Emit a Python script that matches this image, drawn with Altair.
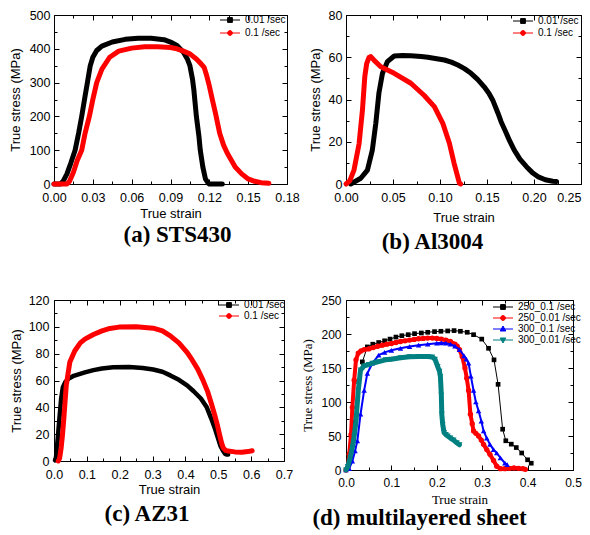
import altair as alt
import pandas as pd

# ---------------- data ----------------
# (a) STS430
a_names = ["0.01 /sec", "0.1 /sec"]
a_black_x = [0.0, 0.005, 0.007, 0.01, 0.013, 0.0163, 0.019, 0.0214, 0.024, 0.0258, 0.028, 0.030, 0.033, 0.037,
             0.045, 0.055, 0.065, 0.075, 0.085, 0.09, 0.095, 0.1, 0.103, 0.105, 0.107, 0.108, 0.109, 0.11,
             0.112, 0.113, 0.115, 0.117, 0.119, 0.12, 0.13]
a_black_y = [0, 0, 8, 30, 62, 100, 150, 200, 260, 300, 350, 375, 395, 408, 420, 428, 431, 431, 427, 420, 410,
             390, 370, 350, 310, 280, 240, 200, 140, 100, 50, 15, 3, 0, 0]
a_red_x = [0.0, 0.01, 0.012, 0.015, 0.018, 0.0214, 0.024, 0.0273, 0.030, 0.033, 0.037, 0.043, 0.05, 0.06, 0.07,
           0.08, 0.09, 0.095, 0.1, 0.105, 0.11, 0.113, 0.116, 0.118, 0.12, 0.122, 0.125, 0.128, 0.131, 0.134,
           0.137, 0.14, 0.145, 0.15, 0.155, 0.16, 0.166]
a_red_y = [0, 0, 8, 35, 70, 100, 150, 200, 250, 300, 340, 375, 393, 402, 406, 406, 404, 400, 393, 385, 370, 358,
           345, 320, 290, 255, 205, 150, 115, 90, 70, 50, 30, 15, 8, 4, 2]

# (b) Al3004
b_names = ["0.01 /sec", "0.1 /sec"]
b_black_x = [0.005, 0.0157, 0.0228, 0.028, 0.0317, 0.035, 0.0388, 0.044, 0.0513, 0.06, 0.069, 0.08, 0.087, 0.095,
             0.1047, 0.112, 0.119, 0.126, 0.133, 0.14, 0.147, 0.152, 0.156, 0.1617, 0.165, 0.169, 0.174, 0.179,
             0.185, 0.192, 0.198, 0.204, 0.212, 0.22, 0.224]
b_black_y = [0, 2.7, 6.6, 16, 28.7, 43, 52.4, 57.9, 60.6, 60.8, 60.7, 60.3, 60, 59.4, 58.7, 57.7, 56.3, 54.6,
             52.4, 49.5, 46, 43, 39.8, 33.5, 29.5, 25.6, 20.5, 16, 11.8, 8.2, 5.5, 3.5, 2, 1.3, 1.2]
b_red_x = [0.0, 0.004, 0.0085, 0.0139, 0.0175, 0.02, 0.022, 0.0246, 0.0264, 0.03, 0.037, 0.0513, 0.069, 0.083,
           0.094, 0.103, 0.11, 0.115, 0.1207, 0.122]
b_red_y = [0, 1.5, 6.6, 19, 35, 50.8, 57, 60, 60.3, 58.5, 55.5, 52.4, 47.7, 42, 36.6, 28.7, 19.3, 9.8, 0.3, 0]

# (c) AZ31
c_names = ["0.01 /sec", "0.1 /sec"]
c_black_x = [0.003, 0.006, 0.0114, 0.0166, 0.0218, 0.027, 0.035, 0.0425, 0.06, 0.094, 0.12, 0.146, 0.18, 0.229,
             0.27, 0.302, 0.33, 0.354, 0.38, 0.405, 0.425, 0.447, 0.465, 0.478, 0.49, 0.499, 0.507, 0.515, 0.52,
             0.525, 0.53]
c_black_y = [0.5, 2.5, 17, 32, 46.6, 55, 59, 61, 63.5, 66, 67.7, 69, 69.8, 70, 69.3, 68.2, 66.5, 63.8, 60.5,
             56.4, 52, 46.6, 40, 32, 24, 17, 11, 7.4, 5.5, 4.9, 4.8]
c_red_x = [0.013, 0.017, 0.0218, 0.026, 0.03, 0.0373, 0.048, 0.063, 0.08, 0.094, 0.12, 0.146, 0.17, 0.198, 0.25,
           0.302, 0.33, 0.354, 0.38, 0.405, 0.42, 0.437, 0.453, 0.468, 0.48, 0.489, 0.497, 0.504, 0.51, 0.515,
           0.522, 0.53, 0.55, 0.572, 0.59, 0.603]
c_red_y = [0, 2, 9.8, 20, 32, 56.4, 73.6, 82, 88, 90.8, 94.3, 97, 98.8, 99.8, 100, 99, 97, 93.3, 88, 81, 75.5,
           68.7, 60.5, 51.5, 42, 34.4, 27, 19.6, 13.5, 9.8, 8, 7.4, 6.8, 6.6, 7, 7.6]

# (d) multilayered sheet
d_names = ["250_0.1 /sec", "250_0.01 /sec", "300_0.1 /sec", "300_0.01 /sec"]
d_k_x = [0.004, 0.01, 0.02, 0.028, 0.036, 0.047, 0.059, 0.072, 0.085, 0.097, 0.11, 0.123, 0.137, 0.151, 0.166,
         0.18, 0.195, 0.209, 0.224, 0.238, 0.252, 0.267, 0.281, 0.299, 0.314, 0.326, 0.335, 0.345, 0.352, 0.364,
         0.375, 0.387, 0.4, 0.408]
d_k_y = [3, 20, 70, 130, 159, 181, 185, 187.5, 190, 192.5, 195.5, 197.5, 199, 200.5, 201.5, 202.5, 203.5, 204,
         204.5, 205, 204, 202.5, 199, 192.5, 179, 162, 126, 60, 43, 38, 33, 25, 15, 10]
d_r_x = [0.0, 0.004, 0.007, 0.011, 0.014, 0.018, 0.022, 0.027, 0.033, 0.04, 0.05, 0.06, 0.07, 0.08, 0.09, 0.1,
         0.11, 0.12, 0.13, 0.14, 0.15, 0.16, 0.17, 0.18, 0.19, 0.2, 0.21, 0.22, 0.23, 0.24, 0.245, 0.25, 0.256,
         0.262, 0.266, 0.27, 0.274, 0.278, 0.281, 0.286, 0.292, 0.298, 0.303, 0.31, 0.317, 0.325, 0.332, 0.34,
         0.35, 0.36, 0.37, 0.38, 0.39, 0.395]
d_r_y = [0, 3, 23, 52, 92, 132, 162, 172, 175, 177, 178, 180, 182, 183.5, 185, 186, 187.5, 189, 190, 191, 192,
         193, 193.5, 194, 194, 193.5, 192.5, 191, 189, 185, 182, 177, 167, 150, 135, 117, 82, 68, 57.5, 54, 50,
         44, 37.7, 30, 23, 14, 5.5, 2, 2, 2.5, 3, 2.5, 2, 1]
d_b_x = [0.0, 0.007, 0.014, 0.02, 0.025, 0.032, 0.04, 0.047, 0.058, 0.072, 0.085, 0.1, 0.12, 0.14, 0.16, 0.18,
         0.2, 0.21, 0.22, 0.23, 0.24, 0.25, 0.26, 0.265, 0.27, 0.275, 0.281, 0.286, 0.292, 0.298, 0.303, 0.31,
         0.317, 0.325, 0.332, 0.34, 0.35, 0.355]
d_b_y = [0, 2, 13, 28, 43, 82, 117, 142, 157, 169, 173, 176, 179, 181.5, 183.5, 185, 186.5, 187, 186.5, 185, 182,
         177, 168, 163, 157, 138, 117, 100, 87, 72, 57.5, 47, 37.7, 30, 25, 18, 10, 8]
d_t_x = [0.0, 0.004, 0.009, 0.014, 0.018, 0.022, 0.027, 0.032, 0.04, 0.05, 0.058, 0.07, 0.087, 0.1, 0.12, 0.14,
         0.16, 0.18, 0.19, 0.196, 0.202, 0.206, 0.208, 0.21, 0.211, 0.213, 0.216, 0.22, 0.224, 0.23, 0.237, 0.244,
         0.25]
d_t_y = [0, 5, 18, 33, 50, 72, 117, 147, 153, 155, 157, 159, 162, 163, 165, 166.5, 167, 167, 166, 163, 152, 145,
         137, 110, 82, 67, 55, 52, 50, 47, 44, 40, 37]

# ---------------- styling helpers ----------------
SANS = "Liberation Sans"
SERIF = "Liberation Serif"

# legend glyphs: short line with a marker in the middle
SQ = "M-1,0H4M0.9,-0.6H2.1V0.6H0.9Z"
CI = "M-1,0H4M2.1,0A0.6,0.6,0,1,1,0.9,0A0.6,0.6,0,1,1,2.1,0Z"
TU = "M-1,0H4M1.5,-0.75L2.2,0.5H0.8Z"
TD = "M-1,0H4M1.5,0.75L2.2,-0.5H0.8Z"
LEG_SIZE = 64


def make_axis(title, majors, minors, step, fmt, span, lab_size, lab_pad, title_font, title_pad,
              last_right=False):
    test = f"abs(datum.value / {step} - round(datum.value / {step})) < 0.000001"
    ax = dict(
        title=title, values=sorted(majors + minors), format=fmt,
        labelExpr=f"({test}) ? datum.label : ''",
        labelFont=SANS, labelFontSize=lab_size, labelColor="black", labelPadding=lab_pad,
        labelOverlap=False, labelFlush=False,
        titleFont=title_font, titleFontSize=13, titleFontWeight="normal", titleColor="black",
        titlePadding=title_pad,
        grid=True, gridColor="black", gridWidth=1, gridOpacity=1,
        gridDash={"condition": {"test": test, "value": [5, span - 10, 5, 3000]},
                  "value": [3, span - 6, 3, 3000]},
        ticks=False, tickSize=0, domain=False,
    )
    if last_right:
        ax["labelAlign"] = {"condition": {"test": f"datum.value >= {majors[-1]} - 0.000001", "value": "right"},
                            "value": "center"}
    return alt.Axis(**ax)


def make_panel(series, names, colors, glyphs, xdom, ydom, W, H, xaxis, yaxis, title, tdx, toff,
               lx, ly, rowpad):
    frames = []
    for s in series:
        frames.append(pd.DataFrame({"strain": s["x"], "stress": s["y"], "series": s["name"]}))
    df = pd.concat(frames, ignore_index=True)
    legend = alt.Legend(
        title=None, orient="none", legendX=lx, legendY=ly, padding=0,
        labelFont=SANS, labelFontSize=10, labelColor="black", labelOffset=16,
        symbolSize=LEG_SIZE, rowPadding=rowpad, symbolStrokeWidth=1,
    )
    base = alt.Chart(df).encode(
        x=alt.X("strain:Q", scale=alt.Scale(domain=xdom, nice=False, zero=False), axis=xaxis),
        y=alt.Y("stress:Q", scale=alt.Scale(domain=ydom, nice=False, zero=False), axis=yaxis),
    )
    layers = []
    for s, c in zip(series, colors):
        f = base.transform_filter(alt.datum.series == s["name"])
        layers.append(f.mark_line(color=c, strokeWidth=s["lw"], strokeCap="round", strokeJoin="round"))
        if s.get("pt"):
            layers.append(f.mark_point(shape=s["pt"], filled=True, color=c, size=s["ps"], opacity=1))
    # legend carrier (draws no marks, only provides the legend from the scales)
    leg = base.transform_filter("false").mark_point(filled=True, strokeWidth=1, opacity=1,
                                                    size=LEG_SIZE).encode(
        fill=alt.Fill("series:N", scale=alt.Scale(domain=names, range=colors), legend=legend),
        stroke=alt.Stroke("series:N", scale=alt.Scale(domain=names, range=colors), legend=legend),
        shape=alt.Shape("series:N", scale=alt.Scale(domain=names, range=glyphs), legend=legend),
    )
    layers.append(leg)
    return alt.layer(*layers).properties(
        width=W, height=H,
        title=alt.TitleParams(title, orient="bottom", anchor="middle", font=SERIF, fontSize=23,
                              fontWeight="bold", color="black", dx=tdx, offset=toff),
    )


# ---------------- panels ----------------
WA, HA = 233, 169
pa = make_panel(
    [dict(name=a_names[0], x=a_black_x, y=a_black_y, lw=5),
     dict(name=a_names[1], x=a_red_x, y=a_red_y, lw=5)],
    a_names, ["#000000", "#ff0000"], [SQ, CI], [0, 0.18], [0, 500], WA, HA,
    make_axis("True strain", [0, 0.03, 0.06, 0.09, 0.12, 0.15, 0.18], [0.015, 0.045, 0.075, 0.105, 0.135, 0.165],
              0.03, ".2f", HA, 12.5, 7.5, SANS, 3.5),
    make_axis("True stress (MPa)", [0, 100, 200, 300, 400, 500], [50, 150, 250, 350, 450], 100, "d", WA,
              12.5, 4, SANS, 7),
    "(a) STS430", 7, 3, 165, 0, 3)

WB, HB = 235, 169
pb = make_panel(
    [dict(name=b_names[0], x=b_black_x, y=b_black_y, lw=5),
     dict(name=b_names[1], x=b_red_x, y=b_red_y, lw=5)],
    b_names, ["#000000", "#ff0000"], [SQ, CI], [0, 0.25], [0, 80], WB, HB,
    make_axis("True strain", [0, 0.05, 0.1, 0.15, 0.2, 0.25], [0.025, 0.075, 0.125, 0.175, 0.225],
              0.05, ".2f", HB, 12.5, 7.5, SANS, 7, last_right=True),
    make_axis("True stress (MPa)", [0, 20, 40, 60, 80], [10, 30, 50, 70], 20, "d", WB, 12.5, 4, SANS, 6),
    "(b) Al3004", -31, 7, 166, 1, 2)

WC, HC = 230, 161
pc = make_panel(
    [dict(name=c_names[0], x=c_black_x, y=c_black_y, lw=4.5),
     dict(name=c_names[1], x=c_red_x, y=c_red_y, lw=5)],
    c_names, ["#000000", "#ff0000"], [SQ, CI], [0, 0.7], [0, 120], WC, HC,
    make_axis("True strain", [0, 0.1, 0.2, 0.3, 0.4, 0.5, 0.6, 0.7], [0.05, 0.15, 0.25, 0.35, 0.45, 0.55, 0.65],
              0.1, ".1f", HC, 12.5, 7.5, SANS, 2),
    make_axis("True stress (MPa)", [0, 20, 40, 60, 80, 100, 120], [10, 30, 50, 70, 90, 110], 20, "d", WC,
              12.5, 5, SANS, 4.5),
    "(c) AZ31", -22, 7, 164, 0, 1)

WD, HD = 227, 170
pd_ = make_panel(
    [dict(name=d_names[0], x=d_k_x, y=d_k_y, lw=1, pt="square", ps=22),
     dict(name=d_names[1], x=d_r_x, y=d_r_y, lw=4, pt="circle", ps=28),
     dict(name=d_names[2], x=d_b_x, y=d_b_y, lw=2, pt="triangle-up", ps=30),
     dict(name=d_names[3], x=d_t_x, y=d_t_y, lw=5, pt="triangle-down", ps=34)],
    d_names, ["#000000", "#ff0000", "#0000ff", "#008080"], [SQ, CI, TU, TD], [0, 0.5], [0, 250], WD, HD,
    make_axis("True strain", [0, 0.1, 0.2, 0.3, 0.4, 0.5], [0.05, 0.15, 0.25, 0.35, 0.45],
              0.1, ".1f", HD, 12, 7, SERIF, 5),
    make_axis("True stress (MPa)", [0, 50, 100, 150, 200, 250], [25, 75, 125, 175, 225], 50, "d", WD,
              12, 5, SERIF, 6),
    "(d) multilayered sheet", -40, 1, 146, 2, 1)

chart = alt.concat(
    pa, pb, pc, pd_, columns=2, spacing={"row": 116, "column": 59}, bounds="flush", align="each",
).resolve_scale(
    x="independent", y="independent", fill="independent", stroke="independent", shape="independent"
).configure_view(
    stroke="black", strokeWidth=1
).properties(
    padding={"left": 0, "top": 0, "right": 0, "bottom": 0}, background="white"
)

chart.save("out.html", embed_options={"renderer": "svg", "actions": False})
